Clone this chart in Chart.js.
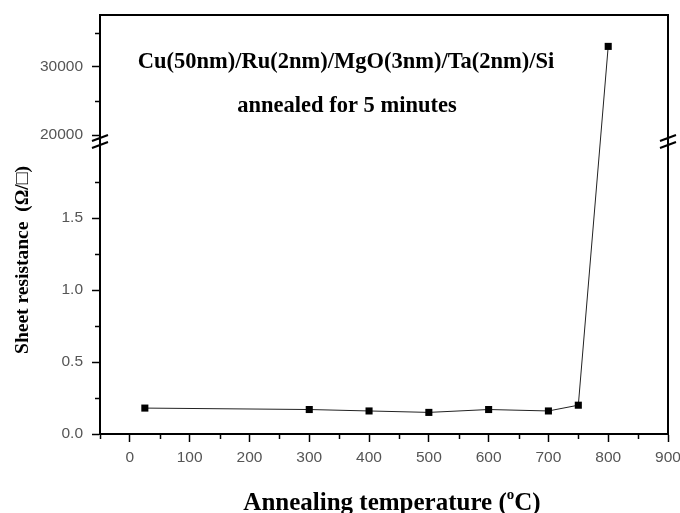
<!DOCTYPE html>
<html>
<head>
<meta charset="utf-8">
<script src="https://cdn.jsdelivr.net/npm/chart.js@4.4.1/dist/chart.umd.min.js"></script>
<style>
  html, body { margin: 0; padding: 0; background: #fff; }
  #wrap { width: 680px; height: 513px; position: relative; }
</style>
</head>
<body>
<div id="wrap"><canvas id="chart"></canvas></div>
<script>
// annealing temperature (°C) and sheet resistance (ohm/sq)
const temps = [25, 300, 400, 500, 600, 700, 750, 800];
const resistance = [0.18, 0.17, 0.16, 0.15, 0.17, 0.16, 0.20, 33000];

const xTicks = [0, 100, 200, 300, 400, 500, 600, 700, 800, 900];
const xMinorTicks = [-50, 50, 150, 250, 350, 450, 550, 650, 750, 850];
const yTicksLow = [0, 0.5, 1.0, 1.5];
const yTicksHigh = [20000, 30000];
const yLabels = ['0.0', '0.5', '1.0', '1.5', '20000', '30000'];
const yMinorLow = [0.25, 0.75, 1.25, 1.75];
const yMinorHigh = [25000, 35000];

// broken axis: 0..2 below the break, 18400..37600 above it
const BREAK_LOW = 2.0;
const BREAK_HIGH = 18400;
const HIGH_SCALE = 21100;
const Y_TOP = 37600;

function toAxis(v) {
    return v <= BREAK_LOW ? v : BREAK_LOW + (v - BREAK_HIGH) / HIGH_SCALE;
}

const serif = "'Liberation Serif', 'Times New Roman', serif";

const decorations = {
    id: 'decorations',
    afterDraw(chart) {
        const { ctx, chartArea: a, scales: { x, y } } = chart;
        ctx.save();
        ctx.strokeStyle = '#000';

        // top and right frame
        ctx.lineWidth = 2;
        ctx.beginPath();
        ctx.moveTo(a.left - 1, a.top);
        ctx.lineTo(a.right, a.top);
        ctx.lineTo(a.right, a.bottom);
        ctx.stroke();

        // minor ticks
        ctx.lineWidth = 1.5;
        ctx.beginPath();
        xMinorTicks.forEach(v => {
            const px = Math.round(x.getPixelForValue(v)) + 0.5;
            ctx.moveTo(px, a.bottom);
            ctx.lineTo(px, a.bottom + 5);
        });
        yMinorLow.concat(yMinorHigh).forEach(v => {
            const py = Math.round(y.getPixelForValue(toAxis(v))) + 0.5;
            ctx.moveTo(a.left, py);
            ctx.lineTo(a.left - 5, py);
        });
        ctx.stroke();

        // axis break marks
        const yb = y.getPixelForValue(BREAK_LOW) - 4.5;
        [a.left, a.right].forEach(ax => {
            ctx.fillStyle = '#fff';
            ctx.fillRect(ax - 2, yb - 3, 4, 6);
            ctx.lineWidth = 2;
            ctx.beginPath();
            [-3.5, 3.5].forEach(d => {
                ctx.moveTo(ax - 8, yb + d + 3);
                ctx.lineTo(ax + 8, yb + d - 3);
            });
            ctx.moveTo(ax, yb - 3);
            ctx.lineTo(ax, yb + 3);
            ctx.stroke();
        });

        // annotation
        ctx.fillStyle = '#000';
        ctx.textAlign = 'center';
        ctx.textBaseline = 'middle';
        ctx.font = 'bold 22.5px ' + serif;
        ctx.fillText('Cu(50nm)/Ru(2nm)/MgO(3nm)/Ta(2nm)/Si', 346, 62);
        ctx.fillText('annealed for 5 minutes', 347, 106);

        // x title with superscript o
        ctx.textAlign = 'left';
        ctx.textBaseline = 'alphabetic';
        const t1 = 'Annealing temperature (';
        const t2 = 'C)';
        ctx.font = 'bold 25px ' + serif;
        const w1 = ctx.measureText(t1).width;
        const w2 = ctx.measureText(t2).width;
        ctx.font = 'bold 15px ' + serif;
        const ws = ctx.measureText('o').width;
        let sx = 392 - (w1 + ws + w2) / 2;
        ctx.font = 'bold 25px ' + serif;
        ctx.fillText(t1, sx, 510);
        ctx.font = 'bold 15px ' + serif;
        ctx.fillText('o', sx + w1, 499);
        ctx.font = 'bold 25px ' + serif;
        ctx.fillText(t2, sx + w1 + ws, 510);

        // y title
        ctx.translate(23, 260);
        ctx.rotate(-Math.PI / 2);
        ctx.textAlign = 'center';
        ctx.textBaseline = 'middle';
        ctx.font = 'bold 19.5px ' + serif;
        ctx.fillText('Sheet resistance  (\u03A9/\u25A1)', 0, 0);
        ctx.restore();
    }
};

new Chart(document.getElementById('chart'), {
    type: 'line',
    data: {
        datasets: [{
            data: temps.map((t, i) => ({ x: t, y: toAxis(resistance[i]) })),
            borderColor: '#222',
            borderWidth: 1,
            pointStyle: 'rect',
            pointRadius: 5,
            pointBackgroundColor: '#000',
            pointBorderWidth: 0,
            tension: 0
        }]
    },
    options: {
        responsive: true,
        maintainAspectRatio: false,
        animation: false,
        layout: { padding: { top: 15, right: 12, bottom: 0, left: 0 } },
        plugins: {
            legend: { display: false },
            tooltip: { enabled: false }
        },
        scales: {
            x: {
                type: 'linear',
                min: -50,
                max: 900,
                afterBuildTicks: scale => { scale.ticks = xTicks.map(v => ({ value: v })); },
                afterFit: scale => {
                    scale.height = 79;
                    scale.paddingLeft = 0;
                    scale.paddingRight = 0;
                },
                grid: { drawOnChartArea: false, tickLength: 8, tickWidth: 1.5, tickColor: '#000' },
                border: { display: true, color: '#000', width: 2 },
                ticks: {
                    padding: 6,
                    maxRotation: 0,
                    color: '#555',
                    font: { family: "'Liberation Sans', Arial, sans-serif", size: 15.5 }
                }
            },
            y: {
                type: 'linear',
                min: 0,
                max: toAxis(Y_TOP),
                afterBuildTicks: scale => {
                    scale.ticks = yTicksLow.concat(yTicksHigh).map(v => ({ value: toAxis(v) }));
                },
                afterFit: scale => {
                    scale.width = 100;
                    scale.paddingTop = 0;
                    scale.paddingBottom = 0;
                },
                grid: { drawOnChartArea: false, tickLength: 8, tickWidth: 1.5, tickColor: '#000' },
                border: { display: true, color: '#000', width: 2 },
                ticks: {
                    padding: 9,
                    color: '#555',
                    font: { family: "'Liberation Sans', Arial, sans-serif", size: 15.5 },
                    callback: (value, index) => yLabels[index]
                }
            }
        }
    },
    plugins: [decorations]
});
</script>
</body>
</html>
